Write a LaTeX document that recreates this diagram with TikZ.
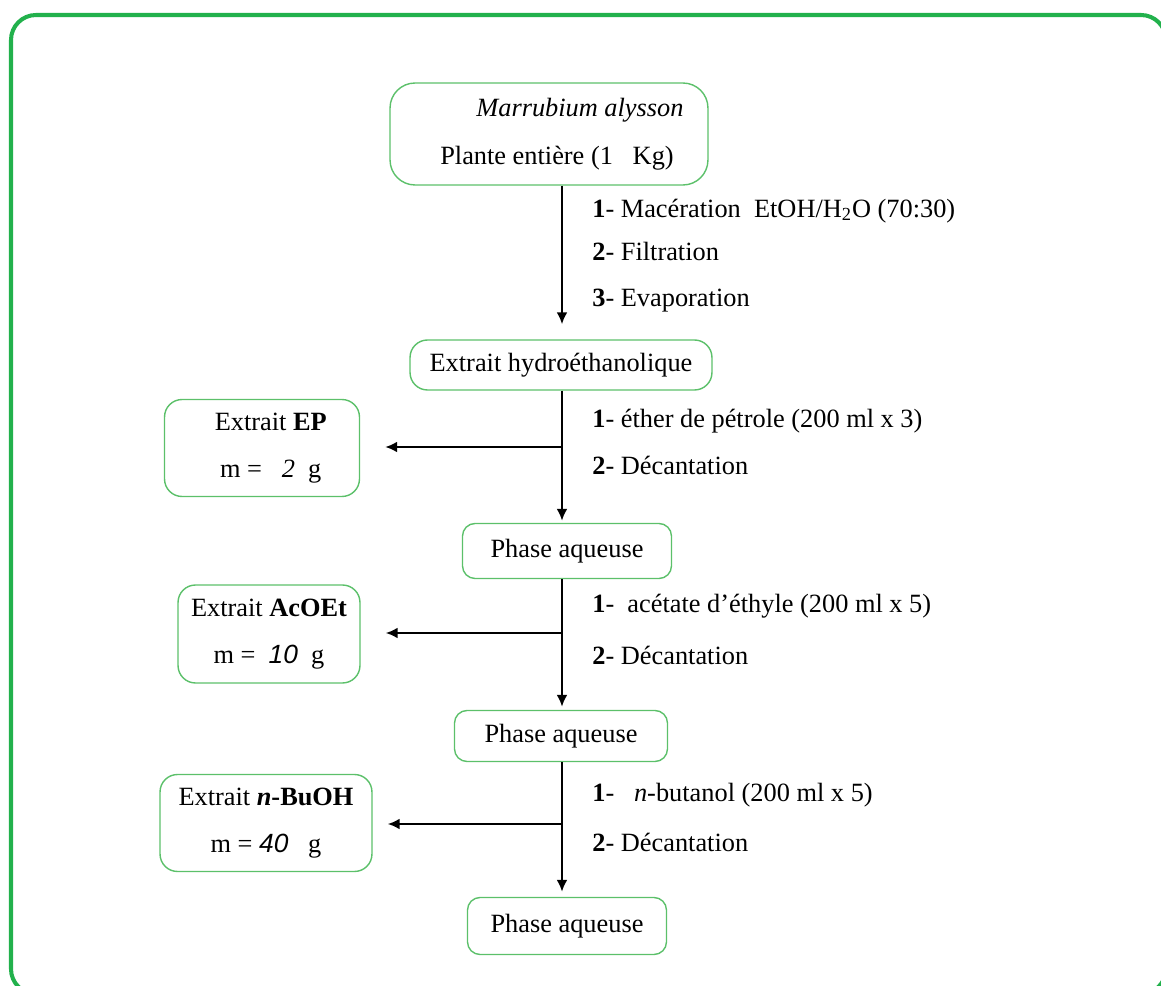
\documentclass[tikz,border=0pt]{standalone}
\usepackage{fontspec}
\setmainfont{Liberation Serif}
\newfontfamily\arialfont{Liberation Sans}
\usepackage{xcolor}
\usetikzlibrary{arrows.meta}
\definecolor{framegreen}{RGB}{34,177,76}
\definecolor{boxgreen}{RGB}{92,192,106}

\begin{document}
\begin{tikzpicture}[x=0.02cm,y=-0.02cm,>={Latex[length=2.4mm,width=2.2mm]},
  main/.style={draw=boxgreen,line width=0.8pt,rounded corners=0.35cm,align=center,inner sep=0pt,font=\fontsize{15}{27}\selectfont},
  lbl/.style={anchor=mid west,inner sep=0pt,font=\fontsize{15}{18}\selectfont},
  flow/.style={->,line width=1.5pt}]
\useasboundingbox (0,0) rectangle (1161,986);
\draw[framegreen,line width=2.3pt,rounded corners=0.5cm] (11,15) rectangle (1166,994);

\node[main,minimum width=6.36cm,minimum height=2.04cm,rounded corners=0.5cm] (1) at (549,134) {\hspace*{1.24cm}\textit{Marrubium alysson}\\ \hspace*{0.32cm}Plante entière (1~~~Kg)};
\node[main,minimum width=6.04cm,minimum height=1.0cm] (2) at (561,365) {Extrait hydroéthanolique};
\node[main,minimum width=4.18cm,minimum height=1.1cm,rounded corners=0.25cm] (3) at (567,551) {Phase aqueuse};
\node[main,minimum width=4.26cm,minimum height=1.02cm,rounded corners=0.25cm] (4) at (561,736) {Phase aqueuse};
\node[main,minimum width=3.98cm,minimum height=1.14cm,rounded corners=0.25cm] (5) at (567,926) {Phase aqueuse};
\node[main,minimum width=3.9cm,minimum height=1.94cm] (6) at (262,448) {\hspace*{0.35cm}Extrait \textbf{EP}\\ \hspace*{0.35cm}m =~~~\textit{2}~~g};
\node[main,minimum width=3.64cm,minimum height=1.96cm] (7) at (269,634) {Extrait \textbf{AcOEt}\\ m =~~{\arialfont\itshape 10}~~g};
\node[main,minimum width=4.24cm,minimum height=1.94cm] (8) at (266,823) {Extrait \textbf{\textit{n}-BuOH}\\ m = {\arialfont\itshape 40}~~~g};

% operating steps
\node[lbl] (t1) at (592,213) {\textbf{1}- Macération~~EtOH/H\textsubscript{2}O (70:30)};
\node[lbl] (t2) at (592,256) {\textbf{2}- Filtration};
\node[lbl] (t3) at (592,302) {\textbf{3}- Evaporation};
\node[lbl] (t4) at (592,423) {\textbf{1}- éther de pétrole (200 ml x 3)};
\node[lbl] (t5) at (592,470) {\textbf{2}- Décantation};
\node[lbl] (t6) at (592,608) {\textbf{1}-~~acétate d’éthyle (200 ml x 5)};
\node[lbl] (t7) at (592,660) {\textbf{2}- Décantation};
\node[lbl] (t8) at (592,797) {\textbf{1}-~~~\textit{n}-butanol (200 ml x 5)};
\node[lbl] (t9) at (592,847) {\textbf{2}- Décantation};

\coordinate (a1) at (562,447);
\coordinate (a2) at (562,633);
\coordinate (a3) at (562,824);

\draw[flow,shorten >=0.3cm] (1.south -| a1) -- (2.north -| a1);
\draw[flow,shorten >=0.04cm] (2.south -| a1) -- (3.north -| a1);
\draw[flow,shorten >=0.06cm] (3.south -| a1) -- (4.north -| a1);
\draw[flow,shorten >=0.1cm] (4.south -| a1) -- (5.north -| a1);
\draw[flow,shorten >=0.5cm] (a1) -- (6.east |- a1);
\draw[flow,shorten >=0.5cm] (a2) -- (7.east |- a2);
\draw[flow,shorten >=0.3cm] (a3) -- (8.east |- a3);

\end{tikzpicture}
\end{document}
